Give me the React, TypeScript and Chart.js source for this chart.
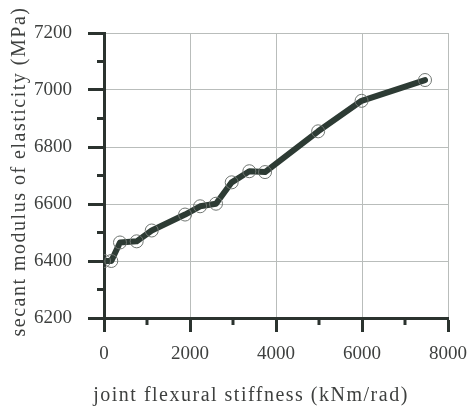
import React, { useEffect, useRef } from "react";
import { Chart, registerables } from "chart.js";

Chart.register(...registerables);

const stiffness = [0, 170, 372, 760, 1110, 1885, 2235, 2605, 2970, 3380, 3745, 4980, 5990, 7465];
const modulus = [6400, 6400, 6465, 6469, 6507, 6563, 6592, 6601, 6676, 6715, 6712, 6855, 6962, 7035];
const xMinorTicks = [1000, 3000, 5000, 7000];
const yMinorTicks = [6300, 6500, 6700, 6900, 7100];
const xTitle = "joint flexural stiffness (kNm/rad)";
const yTitle = "secant modulus of elasticity (MPa)";

const AXIS = "#2b332f";
const TEXT = "#3e403f";
const FONT = "'Liberation Serif', 'DejaVu Serif', serif";

const minorTicksPlugin = {
  id: "minorTicks",
  afterDraw(chart: any) {
    const ctx = chart.ctx;
    const xs = chart.scales.x;
    const ys = chart.scales.y;
    const area = chart.chartArea;
    ctx.save();
    ctx.strokeStyle = AXIS;
    ctx.lineWidth = 3;
    for (const v of xMinorTicks) {
      const px = xs.getPixelForValue(v);
      ctx.beginPath();
      ctx.moveTo(px, area.bottom);
      ctx.lineTo(px, area.bottom + 7);
      ctx.stroke();
    }
    for (const v of yMinorTicks) {
      const py = ys.getPixelForValue(v);
      ctx.beginPath();
      ctx.moveTo(area.left, py);
      ctx.lineTo(area.left - 7, py);
      ctx.stroke();
    }
    // axis titles (letter-spaced, as in the source figure)
    ctx.fillStyle = TEXT;
    ctx.font = `20px ${FONT}`;
    (ctx as any).letterSpacing = "1.5px";
    ctx.textAlign = "center";
    ctx.textBaseline = "middle";
    ctx.fillText(xTitle, (area.left + area.right) / 2 - 25, chart.height - 14);
    ctx.translate(20, (area.top + area.bottom) / 2 - 4);
    ctx.rotate(-Math.PI / 2);
    ctx.fillText(yTitle, 0, 0);
    ctx.restore();
  },
};

export default function App() {
  const ref = useRef<HTMLCanvasElement | null>(null);
  useEffect(() => {
    if (!ref.current) return;
    const chart = new Chart(ref.current, {
      type: "scatter",
      data: {
        datasets: [
          {
            data: stiffness.map((x, i) => ({ x, y: modulus[i] })),
            showLine: true,
            borderColor: "#2d3b34",
            borderWidth: 6,
            borderJoinStyle: "round",
            borderCapStyle: "round",
            tension: 0,
            pointRadius: 6.5,
            pointBorderWidth: 1,
            pointBorderColor: "#6f7571",
            pointBackgroundColor: "rgba(0,0,0,0)",
          },
        ],
      },
      plugins: [minorTicksPlugin],
      options: {
        animation: false,
        responsive: false,
        maintainAspectRatio: false,
        layout: { padding: { left: 0, top: 33, right: 19, bottom: 0 } },
        plugins: { legend: { display: false }, tooltip: { enabled: false } },
        scales: {
          x: {
            type: "linear",
            min: 0,
            max: 8000,
            afterFit: (s: any) => {
              s.height = 92;
              s.paddingLeft = 0;
              s.paddingRight = 0;
            },
            ticks: {
              stepSize: 2000,
              padding: 11,
              color: TEXT,
              font: { family: FONT, size: 19 },
              maxRotation: 0,
              callback: (v: any) => String(v),
            },
            grid: {
              color: "#b9bdbb",
              lineWidth: 1,
              tickLength: 14,
              tickWidth: 3,
              tickColor: AXIS,
            },
            border: { color: AXIS, width: 3 },
            title: { display: false },
          },
          y: {
            type: "linear",
            min: 6200,
            max: 7200,
            afterFit: (s: any) => {
              s.width = 104;
              s.paddingTop = 0;
              s.paddingBottom = 0;
            },
            ticks: {
              stepSize: 200,
              padding: 16,
              color: TEXT,
              font: { family: FONT, size: 19 },
              callback: (v: any) => String(v),
            },
            grid: {
              color: "#b9bdbb",
              lineWidth: 1,
              tickLength: 16,
              tickWidth: 3,
              tickColor: AXIS,
            },
            border: { color: AXIS, width: 3 },
            title: { display: false },
          },
        },
      },
    });
    return () => chart.destroy();
  }, []);
  return (
    <div style={{ position: "fixed", left: 0, top: 0, width: 467, height: 410, background: "#fff" }}>
      <canvas ref={ref} width={467} height={410} style={{ width: 467, height: 410 }} />
    </div>
  );
}
